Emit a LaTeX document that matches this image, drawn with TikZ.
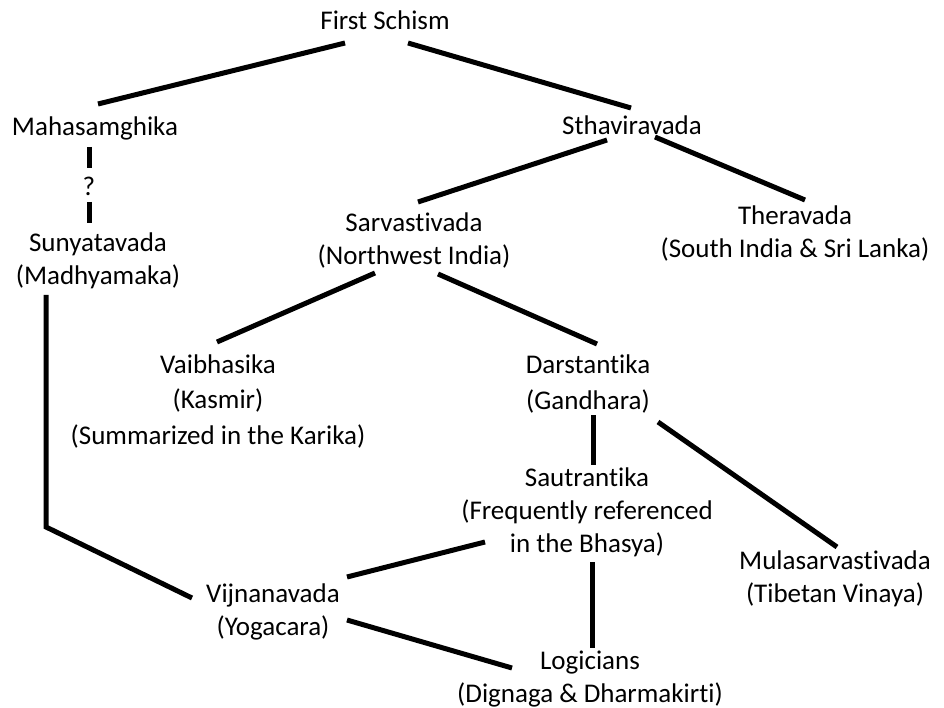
\documentclass[tikz,border=0pt]{standalone}
\usepackage{fontspec}
\setmainfont[Ligatures={NoCommon}]{Carlito}
\begin{document}
\begin{tikzpicture}[x=1pt,y=-1pt,
  lbl/.style={align=center,inner sep=0pt,font=\fontsize{27}{33}\selectfont},
  lblw/.style={align=center,inner sep=0pt,font=\fontsize{27}{35.5}\selectfont},
  link/.style={line width=5pt,black}]
\useasboundingbox[fill=white] (0,0) rectangle (944,708);
\node[lbl] (fs) at (385,20) {First Schism};
\node[lbl] (maha) at (95,128) {Mahasamghika};
\node[lbl] (sthav) at (632,125) {Sthaviravada};
\node[lbl] (q) at (89,186) {?};
\node[lbl] (sunya) at (98,261) {Sunyatavada\\(Madhyamaka)};
\node[lbl] (sarva) at (414,240) {Sarvastivada\\(Northwest India)};
\node[lbl] (thera) at (795,233) {Theravada\\(South India \& Sri Lanka)};
\node[lblw] (vaib) at (218,401) {Vaibhasika\\(Kasmir)\\(Summarized in the Karika)};
\node[lblw] (darst) at (588,384) {Darstantika\\(Gandhara)};
\node[lbl] (saut) at (587,512) {Sautrantika\\(Frequently referenced\\in the Bhasya)};
\node[lbl] (mula) at (835,578.5) {Mulasarvastivada\\(Tibetan Vinaya)};
\node[lbl] (vijn) at (273,611.5) {Vijnanavada\\(Yogacara)};
\node[lbl] (logic) at (590,679) {Logicians\\(Dignaga \& Dharmakirti)};
\coordinate (bend) at (46,527);
\draw[link] ([shift={(-40,23)}]fs.center) -- ([shift={(3,-24)}]maha.center);
\draw[link] ([shift={(23,23)}]fs.center) -- ([shift={(-1,-17)}]sthav.center);
\draw[link] ([shift={(-6,19)}]maha.center) -- ([shift={(0,-18)}]q.center);
\draw[link] ([shift={(0,16)}]q.center) -- ([shift={(-9,-38)}]sunya.center);
\draw[link] ([shift={(-25,15)}]sthav.center) -- ([shift={(4,-38)}]sarva.center);
\draw[link] ([shift={(23,12)}]sthav.center) -- ([shift={(10,-33)}]thera.center);
\draw[link] ([shift={(-39,33)}]sarva.center) -- ([shift={(-1,-59)}]vaib.center);
\draw[link] ([shift={(24,34)}]sarva.center) -- ([shift={(9,-40)}]darst.center);
\draw[link] ([shift={(-52,34)}]sunya.center) -- (bend) -- ([shift={(-81,-13.5)}]vijn.center);
\draw[link] ([shift={(5,31)}]darst.center) -- ([shift={(6,-47)}]saut.center);
\draw[link] ([shift={(70,38)}]darst.center) -- ([shift={(2,-31.5)}]mula.center);
\draw[link] ([shift={(-102,30)}]saut.center) -- ([shift={(74,-34.5)}]vijn.center);
\draw[link] ([shift={(5,50)}]saut.center) -- ([shift={(2,-31)}]logic.center);
\draw[link] ([shift={(74,8.5)}]vijn.center) -- ([shift={(-78,-11)}]logic.center);
\end{tikzpicture}
\end{document}
